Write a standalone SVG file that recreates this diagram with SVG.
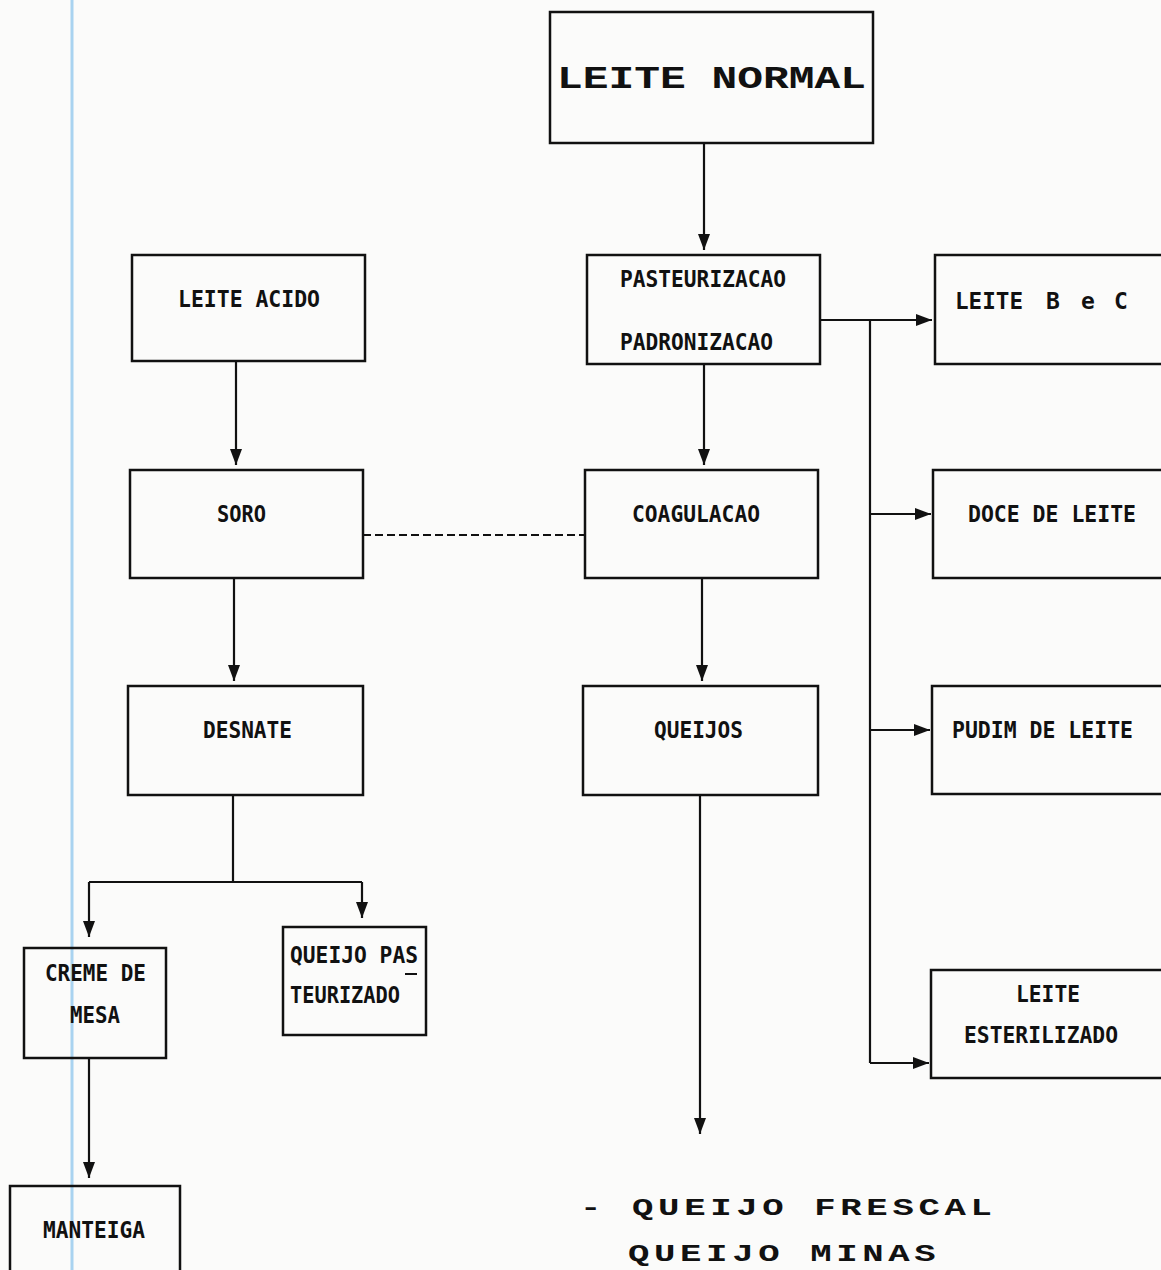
<svg xmlns="http://www.w3.org/2000/svg" width="1161" height="1270" viewBox="0 0 1161 1270">
<defs>
<marker id="ah" viewBox="0 0 16 12" refX="16" refY="6" markerWidth="16" markerHeight="12" markerUnits="userSpaceOnUse" orient="auto">
<path d="M0,0 L16,6 L0,12 z" fill="#111"/>
</marker>
<style>
.bx{fill:none;stroke:#111;stroke-width:2.5}
.ln{fill:none;stroke:#111;stroke-width:2.2}
.ar{fill:none;stroke:#111;stroke-width:2.2;marker-end:url(#ah)}
.t{font-family:"DejaVu Sans Mono","Liberation Mono",monospace;font-weight:bold;fill:#111;font-size:23px}
.big{font-family:"Liberation Mono","DejaVu Sans Mono",monospace;font-weight:bold;fill:#111;font-size:32px}
.q{font-family:"Liberation Mono","DejaVu Sans Mono",monospace;font-weight:bold;fill:#111;font-size:23px;letter-spacing:3px}
</style>
</defs>
<rect width="1161" height="1270" fill="#fbfbfa"/>
<line x1="72" y1="0" x2="72" y2="1270" stroke="#a9d3f0" stroke-width="3"/>

<g id="connectors">
<line class="ar" x1="704" y1="143" x2="704" y2="250"/>
<line class="ar" x1="704" y1="364" x2="704" y2="465"/>
<line class="ar" x1="702" y1="578" x2="702" y2="681"/>
<line class="ar" x1="700" y1="795" x2="700" y2="1134"/>
<line class="ar" x1="820" y1="320" x2="932" y2="320"/>
<line class="ln" x1="870" y1="320" x2="870" y2="1063"/>
<line class="ar" x1="870" y1="514" x2="931" y2="514"/>
<line class="ar" x1="870" y1="730" x2="930" y2="730"/>
<line class="ar" x1="870" y1="1063" x2="929" y2="1063"/>
<line class="ar" x1="236" y1="361" x2="236" y2="465"/>
<line class="ar" x1="234" y1="578" x2="234" y2="681"/>
<line class="ln" x1="233" y1="795" x2="233" y2="882"/>
<line class="ln" x1="89" y1="882" x2="362" y2="882"/>
<line class="ar" x1="89" y1="882" x2="89" y2="937"/>
<line class="ar" x1="362" y1="882" x2="362" y2="918"/>
<line class="ar" x1="89" y1="1058" x2="89" y2="1178"/>
<line class="ln" x1="363" y1="535" x2="585" y2="535" stroke-dasharray="8,4"/>
</g>

<g id="leite-normal">
<rect class="bx" x="550" y="12" width="323" height="131"/>
<text class="big" x="557" y="88" textLength="309" lengthAdjust="spacingAndGlyphs">LEITE NORMAL</text>
</g>

<g id="pasteurizacao">
<rect class="bx" x="587" y="255" width="233" height="109"/>
<text class="t" x="620" y="287" font-size="25" textLength="166" lengthAdjust="spacingAndGlyphs">PASTEURIZACAO</text>
<text class="t" x="620" y="350" font-size="25" textLength="153" lengthAdjust="spacingAndGlyphs">PADRONIZACAO</text>
</g>

<g id="leite-b-c">
<rect class="bx" x="935" y="255" width="230" height="109"/>
<text class="t" x="955" y="309" font-size="24" textLength="68" lengthAdjust="spacingAndGlyphs">LEITE</text>
<text class="t" x="1046" y="309" font-size="24">B</text>
<text class="t" x="1081" y="309" font-size="24">e</text>
<text class="t" x="1114" y="309" font-size="24">C</text>
</g>

<g id="coagulacao">
<rect class="bx" x="585" y="470" width="233" height="108"/>
<text class="t" x="632" y="522" textLength="128" lengthAdjust="spacingAndGlyphs">COAGULACAO</text>
</g>

<g id="doce-de-leite">
<rect class="bx" x="933" y="470" width="232" height="108"/>
<text class="t" x="968" y="522" textLength="168" lengthAdjust="spacingAndGlyphs">DOCE DE LEITE</text>
</g>

<g id="queijos">
<rect class="bx" x="583" y="686" width="235" height="109"/>
<text class="t" x="654" y="738" textLength="89" lengthAdjust="spacingAndGlyphs">QUEIJOS</text>
</g>

<g id="pudim-de-leite">
<rect class="bx" x="932" y="686" width="233" height="108"/>
<text class="t" x="952" y="738" textLength="181" lengthAdjust="spacingAndGlyphs">PUDIM DE LEITE</text>
</g>

<g id="leite-esterilizado">
<rect class="bx" x="931" y="970" width="234" height="108"/>
<text class="t" x="1016" y="1002" textLength="64" lengthAdjust="spacingAndGlyphs">LEITE</text>
<text class="t" x="964" y="1043" textLength="154" lengthAdjust="spacingAndGlyphs">ESTERILIZADO</text>
</g>

<g id="leite-acido">
<rect class="bx" x="132" y="255" width="233" height="106"/>
<text class="t" x="178" y="307" textLength="142" lengthAdjust="spacingAndGlyphs">LEITE ACIDO</text>
</g>

<g id="soro">
<rect class="bx" x="130" y="470" width="233" height="108"/>
<text class="t" x="217" y="522" textLength="49" lengthAdjust="spacingAndGlyphs">SORO</text>
</g>

<g id="desnate">
<rect class="bx" x="128" y="686" width="235" height="109"/>
<text class="t" x="203" y="738" textLength="89" lengthAdjust="spacingAndGlyphs">DESNATE</text>
</g>

<g id="creme-de-mesa">
<rect class="bx" x="24" y="948" width="142" height="110"/>
<text class="t" x="45" y="981" font-size="21" textLength="101" lengthAdjust="spacingAndGlyphs">CREME DE</text>
<text class="t" x="70" y="1023" font-size="21" textLength="50" lengthAdjust="spacingAndGlyphs">MESA</text>
</g>

<g id="queijo-pasteurizado">
<rect class="bx" x="283" y="927" width="143" height="108"/>
<text class="t" x="290" y="963" font-size="21" textLength="128" lengthAdjust="spacingAndGlyphs">QUEIJO PAS</text>
<line x1="405" y1="974" x2="417" y2="974" stroke="#111" stroke-width="2"/>
<text class="t" x="290" y="1003" font-size="21" textLength="110" lengthAdjust="spacingAndGlyphs">TEURIZADO</text>
</g>

<g id="manteiga">
<rect class="bx" x="10" y="1186" width="170" height="100"/>
<text class="t" x="43" y="1238" font-size="21" textLength="102" lengthAdjust="spacingAndGlyphs">MANTEIGA</text>
</g>

<g id="queijos-lista">
<text class="q" transform="translate(580,1215) scale(1.55,1)" x="0" y="0">- QUEIJO FRESCAL</text>
<text class="q" transform="translate(628,1261) scale(1.55,1)" x="0" y="0">QUEIJO MINAS</text>
</g>
</svg>
